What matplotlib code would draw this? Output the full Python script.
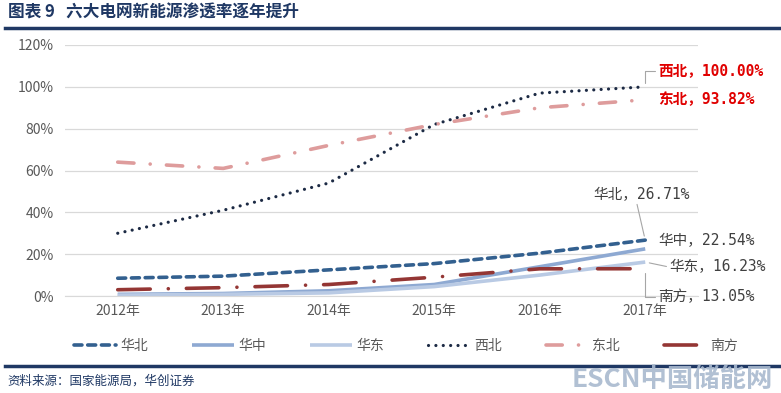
import matplotlib
matplotlib.use('Agg')
import matplotlib.pyplot as plt
from matplotlib.lines import Line2D
from matplotlib.ticker import FuncFormatter

plt.rcParams['font.family'] = ['Noto Sans CJK SC', 'DejaVu Sans']

years = ['2012年', '2013年', '2014年', '2015年', '2016年', '2017年']
huabei = [0.085, 0.095, 0.125, 0.155, 0.205, 0.2671]
huazhong = [0.008, 0.012, 0.025, 0.055, 0.14, 0.2254]
huadong = [0.004, 0.008, 0.015, 0.045, 0.10, 0.1623]
xibei = [0.30, 0.41, 0.54, 0.82, 0.97, 1.00]
dongbei = [0.64, 0.61, 0.72, 0.82, 0.90, 0.9382]
nanfang = [0.03, 0.04, 0.055, 0.09, 0.13, 0.1305]
names = ['华北', '华中', '华东', '西北', '东北', '南方']
yticks = [0, 0.2, 0.4, 0.6, 0.8, 1.0, 1.2]

navy = '#1F3864'
fig = plt.figure(figsize=(7.81, 3.93), dpi=100)
ax = fig.add_axes([0.0832, 0.2468, 0.8105, 0.6387])

x = range(len(years))
series = [huabei, huazhong, huadong, xibei, dongbei, nanfang]
styles = [
    dict(color='#33608F', lw=2.6, dashes=(2.2, 1.6), dash_capstyle='round'),
    dict(color='#8EA9D2', lw=2.6, ls='-', solid_capstyle='butt'),
    dict(color='#B9CAE4', lw=2.6, ls='-', solid_capstyle='butt'),
    dict(color='#1C2A44', lw=2.3, dashes=(0.01, 2.3), dash_capstyle='round'),
    dict(color='#DE9C9C', lw=2.6, dashes=(4.5, 4.5, 0.01, 4.5), dash_capstyle='round'),
    dict(color='#943634', lw=2.6, dashes=(9, 5, 0.01, 5), dash_capstyle='round'),
]
for vals, st, nm in zip(series, styles, names):
    ax.plot(x, vals, label=nm, **st)

ax.set_xlim(-0.5, len(years) - 0.5)
ax.set_ylim(0, 1.2)
ax.set_yticks(yticks)
ax.yaxis.set_major_formatter(FuncFormatter(lambda v, p: '%d%%' % round(v * 100)))
ax.set_xticks(list(x))
ax.set_xticklabels(years)
ax.grid(axis='y', color='#D9D9D9', lw=0.9)
ax.set_axisbelow(True)
for s in ax.spines.values():
    s.set_visible(False)
ax.spines['bottom'].set_visible(True)
ax.spines['bottom'].set_color('#D9D9D9')
ax.tick_params(length=0, colors='#595959', labelsize=10)
ax.tick_params(axis='y', pad=8)
ax.tick_params(axis='x', pad=6)

# data labels at last point
last = len(years) - 1
grey = '#404040'
mono = ['DejaVu Sans Mono', 'Noto Sans CJK SC']
lead = dict(arrowstyle='-', color='#A6A6A6', lw=0.8, shrinkA=0, shrinkB=3)
ax.annotate('西北，%.2f%%' % (xibei[-1] * 100), (last, xibei[-1]), xytext=(13, 16),
            textcoords='offset pixels', ha='left', va='center', color='#E00000',
            fontsize=10.5, fontweight='bold', family=mono,
            arrowprops=dict(lead, connectionstyle='angle,angleA=0,angleB=90,rad=0', relpos=(0, 0.5)))
ax.annotate('东北，%.2f%%' % (dongbei[-1] * 100), (last, dongbei[-1]), xytext=(13, 0),
            textcoords='offset pixels', ha='left', va='center', color='#E00000',
            fontsize=10.5, fontweight='bold', family=mono)
ax.annotate('华北，%.2f%%' % (huabei[-1] * 100), (last, huabei[-1]), xytext=(-4, 46),
            textcoords='offset pixels', ha='center', va='center', color=grey,
            fontsize=10.5, family=mono,
            arrowprops=dict(lead, relpos=(0.45, 0)))
ax.annotate('华中，%.2f%%' % (huazhong[-1] * 100), (last, huazhong[-1]), xytext=(13, 8),
            textcoords='offset pixels', ha='left', va='center', color=grey,
            fontsize=10.5, family=mono)
ax.annotate('华东，%.2f%%' % (huadong[-1] * 100), (last, huadong[-1]), xytext=(24, -5),
            textcoords='offset pixels', ha='left', va='center', color=grey,
            fontsize=10.5, family=mono,
            arrowprops=dict(lead, relpos=(0, 0.5)))
ax.annotate('南方，%.2f%%' % (nanfang[-1] * 100), (last, nanfang[-1]), xytext=(13, -28),
            textcoords='offset pixels', ha='left', va='center', color=grey,
            fontsize=10.5, family=mono,
            arrowprops=dict(lead, connectionstyle='angle,angleA=0,angleB=90,rad=0', relpos=(0, 0.5)))

leg = fig.legend(loc='center', bbox_to_anchor=(0.52, 0.12), ncol=6, frameon=False,
                 handlelength=3.0, columnspacing=3.2, handletextpad=0.3, fontsize=10)
for t in leg.get_texts():
    t.set_color('#595959')

# header / footer
fig.text(0.01, 0.968, '图表 9   六大电网新能源渗透率逐年提升', ha='left', va='center',
         fontsize=12, fontweight='bold', color=navy)
fig.add_artist(Line2D([0.006, 1.0], [0.93, 0.93], color=navy, lw=2.5))
fig.add_artist(Line2D([0.006, 1.0], [0.069, 0.069], color=navy, lw=2.5))
fig.text(0.01, 0.03, '资料来源：国家能源局，华创证券', ha='left', va='center',
         fontsize=9, style='italic', color=navy)
fig.text(0.99, 0.035, 'ESCN中国储能网', ha='right', va='center', fontsize=19,
         fontweight='bold', color='#A9BACF', alpha=0.9)

fig.savefig('out.png', dpi=100)
